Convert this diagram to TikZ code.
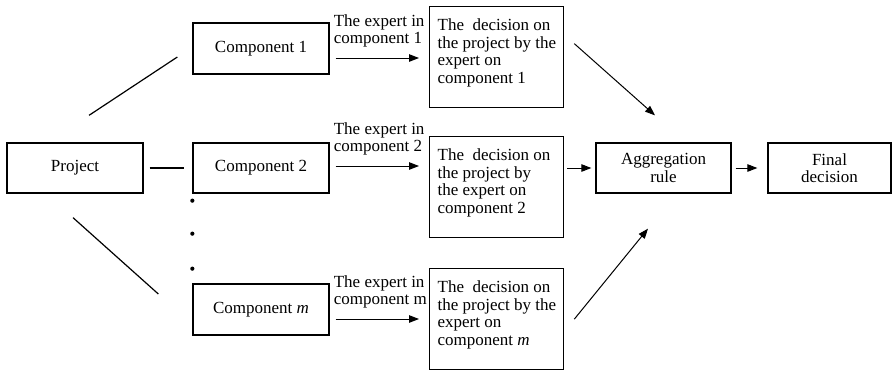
\documentclass[tikz,border=0pt]{standalone}
\usepackage{fontspec}
\setmainfont{Liberation Serif}
\usetikzlibrary{arrows.meta,calc}

\newcommand{\dectext}[1]{\parbox[t][101pt][t]{134pt}{\raggedright\leftskip=8pt\rule{0pt}{24pt}#1}}

\begin{document}
\begin{tikzpicture}[x=1pt, y=-1pt,
  every node/.style={font=\fontsize{17}{17.5}\selectfont},
  box/.style={draw, line width=1.3pt, minimum height=50pt, align=center, inner sep=2pt},
  decbox/.style={draw, line width=1.3pt, inner sep=0pt, anchor=north west},
  lbl/.style={align=left, inner sep=0pt, anchor=west},
  arr/.style={-{Triangle[length=10pt,width=7.5pt]}, line width=1pt},
  link/.style={line width=1.2pt}]
  \useasboundingbox (0,0) rectangle (892,370);

  \node[box, minimum width=136pt] (project) at (75,168) {Project};
  \node[box, minimum width=136pt, minimum height=51pt] (comp1) at (261,48.5) {Component 1};
  \node[box, minimum width=136pt] (comp2) at (261,168) {Component 2};
  \node[box, minimum width=136pt, minimum height=51pt] (compm) at (261,309.5) {Component \textit{m}};

  \node[decbox] (dec1) at (429,6) {\dectext{The~ decision on\\the project by the\\expert on\\component 1}};
  \node[decbox] (dec2) at (429,136) {\dectext{The~ decision on\\the project by\\the expert on\\component 2}};
  \node[decbox] (decm) at (429,268) {\dectext{The~ decision on\\the project by the\\expert on\\component \textit{m}}};

  \node[box, minimum width=135pt] (agg) at (663.5,168) {Aggregation\\rule};
  \node[box, minimum width=123pt] (final) at (829.5,168) {Final\\decision};

  \draw[link] ($(project.north)+(14,-27)$) -- ($(comp1.west)+(-15,8.5)$);
  \draw[link, shorten <=6pt, shorten >=8pt] (project.east) -- (comp2.west);
  \draw[link] ($(project.south)+(-2,24)$) -- ($(compm.west)+(-34,-15.5)$);

  \foreach \dy in {7,40,75}
    \fill ($(comp2.south west)+(0,\dy)$) circle (2.1pt);

  \foreach \c/\d/\dy/\t in {comp1/dec1/9.5/1, comp2/dec2/-2/2, compm/decm/9.5/m} {
    \draw[arr] ($(\c.east)+(6,\dy)$) coordinate (s\t) -- ($(\d.west |- \c.east)+(-10,\dy)$);
    \node[lbl] (lab\t) at ($(s\t)+(-2,-27)$) {The expert in\\component \t};
  }

  \draw[arr, shorten <=3pt, shorten >=4pt] (dec2.east |- agg.west) -- (agg.west);
  \draw[arr, shorten <=4pt, shorten >=10pt] (agg.east) -- (final.west);

  \draw[arr] ($(dec1.east)+(10,-13.5)$) -- ($(agg.north)+(-8.5,-27)$);
  \draw[arr] ($(decm.east)+(10,0)$) -- ($(agg.south)+(-15.5,35)$);
\end{tikzpicture}
\end{document}
